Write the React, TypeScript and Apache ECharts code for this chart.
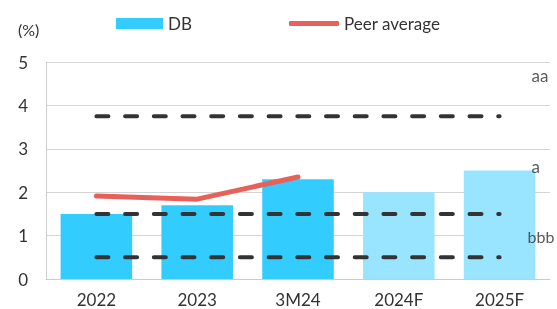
import React, { useEffect, useRef } from "react";
import * as echarts from "echarts";

const categories = ["2022", "2023", "3M24", "2024F", "2025F"];
const dbValues = [1.5, 1.7, 2.3, 2.0, 2.5];
const forecastFlags = [false, false, false, true, true];
const peerAverage = [1.91, 1.84, 2.35, null, null];
const ratingLevels = [3.75, 1.5, 0.5];
const ratingLabels = [
  { name: "aa", value: 4.7 },
  { name: "a", value: 2.6 },
  { name: "bbb", value: 0.97 },
];
const yTicks = { min: 0, max: 5, interval: 1 };

export default function App() {
  const ref = useRef<HTMLDivElement>(null);
  useEffect(() => {
    if (!ref.current) return;
    const chart = echarts.init(ref.current, undefined, { renderer: "svg" });
    const font = "Lato";
    const dashSeries = ratingLevels.map((lv, i) => ({
      name: "level" + i,
      type: "line",
      data: categories.map(() => lv),
      symbol: "none",
      silent: true,
      z: 3,
      lineStyle: { color: "#333333", width: 4, type: [12, 16.7], cap: "round" },
    }));
    chart.setOption({
      animation: false,
      textStyle: { fontFamily: font },
      grid: { left: 46, right: 7, top: 62, bottom: 30 },
      legend: [
        {
          left: 111,
          top: 10,
          itemWidth: 47,
          itemHeight: 11,
          itemGap: 5,
          textStyle: { fontSize: 17, color: "#333", fontFamily: font },
          data: [{ name: "DB", icon: "rect", itemStyle: { color: "#33CCFF" } }],
        },
        {
          left: 284,
          top: 10,
          itemWidth: 50,
          itemHeight: 5,
          textStyle: { fontSize: 17, color: "#333", fontFamily: font },
          data: [{ name: "Peer average", icon: "roundRect", itemStyle: { color: "#E8605A" } }],
        },
      ],
      xAxis: {
        type: "category",
        data: categories,
        axisLine: { show: true, lineStyle: { color: "#cccccc", width: 1 } },
        axisTick: { show: false },
        axisLabel: { fontSize: 17, color: "#333", margin: 12, fontFamily: font },
      },
      yAxis: {
        type: "value",
        min: yTicks.min,
        max: yTicks.max,
        interval: yTicks.interval,
        axisLine: { show: true, lineStyle: { color: "#cccccc", width: 1 } },
        axisTick: { show: false },
        axisLabel: { fontSize: 17, color: "#333", margin: 18, fontFamily: font },
        splitLine: { lineStyle: { color: "#d4d4d4", width: 1 } },
      },
      graphic: [
        {
          type: "text",
          left: 18,
          top: 21,
          style: { text: "(%)", fontSize: 16, fill: "#333", fontFamily: font },
        },
      ],
      series: [
        {
          name: "DB",
          type: "bar",
          barWidth: "71%",
          z: 1,
          data: dbValues.map((v, i) => ({
            value: v,
            itemStyle: { color: forecastFlags[i] ? "#99E5FF" : "#33CCFF" },
          })),
          itemStyle: { color: "#33CCFF" },
        },
        ...dashSeries,
        {
          name: "Peer average",
          type: "line",
          data: peerAverage,
          symbol: "none",
          z: 4,
          itemStyle: { color: "#E8605A" },
          lineStyle: { color: "#E8605A", width: 5, cap: "round", join: "round" },
        },
        {
          name: "ratings",
          type: "scatter",
          symbolSize: 0,
          silent: true,
          data: ratingLabels.map((r) => ({
            value: [categories.length - 1, r.value],
            name: r.name,
            label: r.name === "bbb" ? { distance: 28, fontSize: 16 } : undefined,
          })),
          label: {
            show: true,
            position: "right",
            distance: 32,
            formatter: (p: any) => p.name,
            fontSize: 17,
            color: "#333",
            fontFamily: font,
          },
        },
      ],
    });
    return () => chart.dispose();
  }, []);
  return (
    <div
      ref={ref}
      style={{ position: "fixed", left: 0, top: 0, width: 557, height: 309 }}
    />
  );
}
